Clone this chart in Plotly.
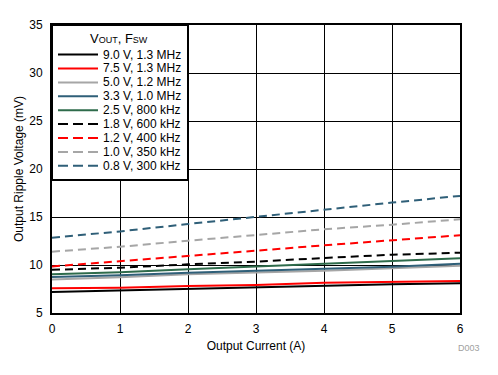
import plotly.graph_objects as go

current = [0, 1, 2, 3, 4, 5, 6]

names = ["9.0 V, 1.3 MHz", "7.5 V, 1.3 MHz", "5.0 V, 1.2 MHz", "3.3 V, 1.0 MHz",
         "2.5 V, 800 kHz", "1.8 V, 600 kHz", "1.2 V, 400 kHz", "1.0 V, 350 kHz",
         "0.8 V, 300 kHz"]

v9_0 = [7.20, 7.36, 7.57, 7.68, 7.89, 8.00, 8.10]
v7_5 = [7.57, 7.64, 7.81, 7.92, 8.16, 8.27, 8.33]
v5_0 = [8.50, 8.72, 9.03, 9.20, 9.40, 9.65, 9.93]
v3_3 = [8.75, 8.93, 9.20, 9.40, 9.55, 9.82, 10.14]
v2_5 = [9.03, 9.24, 9.55, 9.82, 10.10, 10.40, 10.70]
v1_8 = [9.50, 9.72, 10.07, 10.35, 10.73, 11.07, 11.28]
v1_2 = [9.85, 10.38, 10.97, 11.49, 12.05, 12.60, 13.10]
v1_0 = [11.39, 11.90, 12.53, 13.16, 13.72, 14.20, 14.76]
v0_8 = [12.84, 13.50, 14.27, 15.03, 15.80, 16.50, 17.20]

series = [v9_0, v7_5, v5_0, v3_3, v2_5, v1_8, v1_2, v1_0, v0_8]
colors = ["#000000", "#FF0000", "#A6A6A6", "#2F5F78", "#2E6B4B",
          "#000000", "#FF0000", "#A6A6A6", "#2F5F78"]
dashes = ["solid"] * 5 + ["8px,5px"] * 4

x_ticks = [0, 1, 2, 3, 4, 5, 6]
y_ticks = [5, 10, 15, 20, 25, 30, 35]

# page body has an 8px margin; size figure so the plot lands where the reference has it
OFF = 8
W, H = 498 - OFF, 375 - OFF
L, T = 52 - OFF, 25 - OFF
pw, ph = 408, 288
R = W - L - pw
B = H - T - ph


def px_x(p):
    return (p - OFF - L) / pw


def px_y(p):
    return (T + ph - (p - OFF)) / ph


fig = go.Figure()
for name, ys, c, d in zip(names, series, colors, dashes):
    fig.add_trace(go.Scatter(x=current, y=ys, name=name, mode="lines",
                             line=dict(color=c, width=2, dash=d), showlegend=False))

font = "Liberation Sans, Arial, sans-serif"

shapes = []
annotations = []
# legend box
shapes.append(dict(type="rect", xref="paper", yref="paper",
                   x0=px_x(52), x1=px_x(188), y0=px_y(180), y1=px_y(25),
                   fillcolor="white", line=dict(color="black", width=2), layer="above"))
annotations.append(dict(
    text="V<span style='font-size:9px'>OUT</span>, F<span style='font-size:9px'>SW</span>",
    xref="paper", yref="paper", x=px_x(119), y=px_y(46.5), xanchor="center", yanchor="bottom",
    showarrow=False, borderpad=0, font=dict(family=font, size=13, color="#000000")))
for i, (name, c, d) in enumerate(zip(names, colors, dashes)):
    yy = 54.6 + i * 13.9
    shapes.append(dict(type="line", xref="paper", yref="paper",
                       x0=px_x(58), x1=px_x(98), y0=px_y(yy), y1=px_y(yy),
                       line=dict(color=c, width=2, dash=("solid" if d == "solid" else "10px,5px")),
                       layer="above"))
    annotations.append(dict(text=name, xref="paper", yref="paper",
                            x=px_x(102), y=px_y(yy), xanchor="left", yanchor="middle",
                            showarrow=False, borderpad=0,
                            font=dict(family=font, size=12, color="#000000")))

annotations.append(dict(text="D003", xref="paper", yref="paper", x=px_x(482), y=px_y(348),
                        xanchor="right", yanchor="middle", showarrow=False,
                        font=dict(family=font, size=9, color="#A0A0A0")))

fig.update_layout(
    width=W, height=H,
    margin=dict(l=L, r=R, t=T, b=B),
    plot_bgcolor="white", paper_bgcolor="white",
    font=dict(family=font, size=12, color="#000000"),
    showlegend=False,
    xaxis=dict(
        range=[0, 6], tickvals=x_ticks, showgrid=True, gridcolor="black", gridwidth=1,
        showline=True, linecolor="black", linewidth=2, mirror=True, zeroline=False,
        ticks="", tickfont=dict(size=12), automargin=False, ticklabelstandoff=4,
        title=dict(text="Output Current (A)", font=dict(size=12), standoff=6),
    ),
    yaxis=dict(
        range=[5, 35], tickvals=y_ticks, showgrid=True, gridcolor="black", gridwidth=1,
        showline=True, linecolor="black", linewidth=2, mirror=True, zeroline=False,
        ticks="", tickfont=dict(size=12), automargin=False, ticklabelstandoff=5,
        title=dict(text="Output Ripple Voltage (mV)", font=dict(size=12), standoff=3),
    ),
    shapes=shapes,
    annotations=annotations,
)

fig.write_html("out.html")
